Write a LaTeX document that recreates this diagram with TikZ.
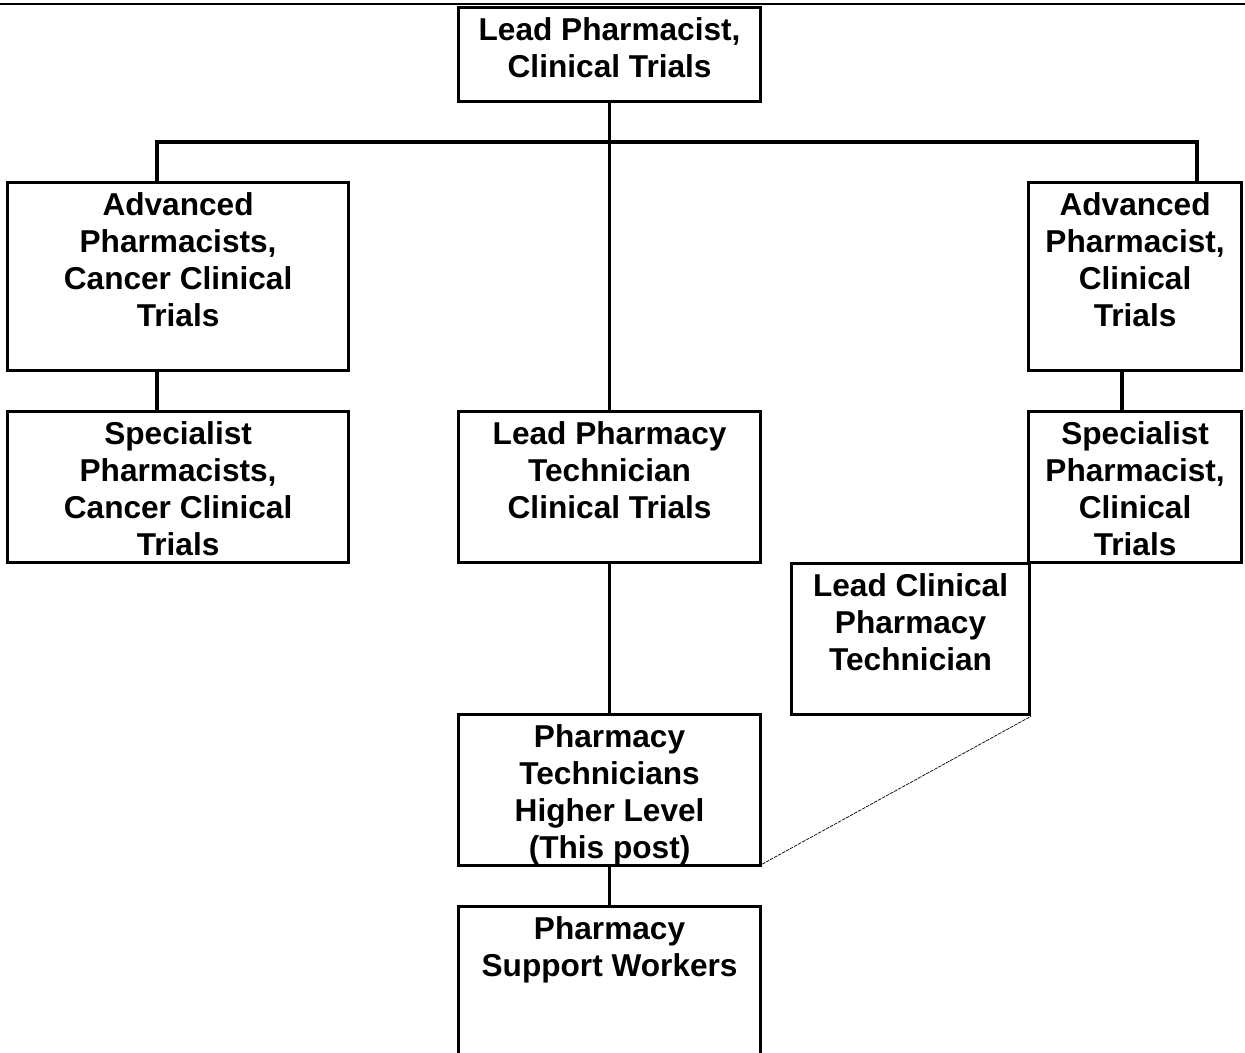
\documentclass[tikz,border=0pt]{standalone}
\usepackage{fontspec}
\setmainfont{Liberation Sans}
\usetikzlibrary{positioning, calc}

\begin{document}
\begin{tikzpicture}[
    x=0.02cm, y=-0.02cm,
    box/.style={rectangle, draw, line width=1.8pt, anchor=north west, inner sep=0pt},
    lbl/.style={anchor=north, inner sep=0pt, yshift=-6.3pt, align=center,
                font=\bfseries\fontsize{18}{21}\selectfont},
    link/.style={line width=1.8pt}
]
    \useasboundingbox (0,0) rectangle (1245,1053);
    \clip (0,0) rectangle (1245,1053);

    % rule along the top of the page
    \draw[line width=1.3pt] (0,4) -- (1245,4);

    % boxes
    \node[box, minimum width=302*0.02cm, minimum height=94*0.02cm] (lead) at (457,6) {};
    \node[box, minimum width=341*0.02cm, minimum height=188*0.02cm] (advL) at (6,181) {};
    \node[box, minimum width=213*0.02cm, minimum height=188*0.02cm] (advR) at (1027,181) {};
    \node[box, minimum width=341*0.02cm, minimum height=151*0.02cm] (specL) at (6,410) {};
    \node[box, minimum width=302*0.02cm, minimum height=151*0.02cm] (techLead) at (457,410) {};
    \node[box, minimum width=213*0.02cm, minimum height=151*0.02cm] (specR) at (1027,410) {};
    \node[box, minimum width=238*0.02cm, minimum height=151*0.02cm] (clinTech) at (790,562) {};
    \node[box, minimum width=302*0.02cm, minimum height=151*0.02cm] (thisPost) at (457,713) {};
    \node[box, minimum width=302*0.02cm, minimum height=170*0.02cm] (support) at (457,905) {};

    % texts
    \node[lbl] (lead-t) at (lead.north) {Lead Pharmacist,\\Clinical Trials};
    \node[lbl] (advL-t) at (advL.north) {Advanced\\Pharmacists,\\Cancer Clinical\\Trials};
    \node[lbl] (advR-t) at (advR.north) {Advanced\\Pharmacist,\\Clinical\\Trials};
    \node[lbl] (specL-t) at (specL.north) {Specialist\\Pharmacists,\\Cancer Clinical\\Trials};
    \node[lbl] (techLead-t) at (techLead.north) {Lead Pharmacy\\Technician\\Clinical Trials};
    \node[lbl] (specR-t) at (specR.north) {Specialist\\Pharmacist,\\Clinical\\Trials};
    \node[lbl] (clinTech-t) at (clinTech.north) {Lead Clinical\\Pharmacy\\Technician};
    \node[lbl] (thisPost-t) at (thisPost.north) {Pharmacy\\Technicians\\Higher Level\\(This post)};
    \node[lbl] (support-t) at (support.north) {Pharmacy\\Support Workers};

    % connectors
    \coordinate (barL) at (157,142);
    \coordinate (barR) at (1197,142);
    \coordinate (dropR) at (1122,369);
    \draw[link] (barL |- advL.north) -- (barL) -- (barR) -- (barR |- advR.north);
    \draw[link] (lead.south) -- (techLead.north);
    \draw[link] (barL |- advL.south) -- (barL |- specL.north);
    \draw[link] (dropR |- advR.south) -- (dropR |- specR.north);
    \draw[link] (techLead.south) -- (thisPost.north);
    \draw[link] (thisPost.south) -- (support.north);
    \draw[line width=0.4pt, dash pattern=on 2pt off 0.6pt] (thisPost.south east) ++(0,-3) -- (clinTech.south east);
\end{tikzpicture}
\end{document}
